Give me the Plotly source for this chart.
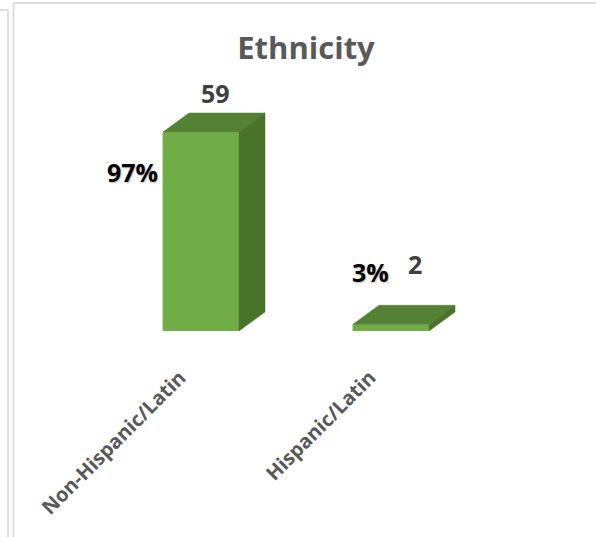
import plotly.graph_objects as go

categories = ["Non-Hispanic/Latin", "Hispanic/Latin"]
counts = [59, 2]
percent_labels = ["97%", "3%"]

FRONT = "#70AD47"
TOP = "#548235"
SIDE = "#4A7229"
GREY = "#595959"

BAR_W = 0.4
DX = 26 / 190
DY = 19 / 3.373

fig = go.Figure()
xs = list(range(len(categories)))

fig.add_trace(go.Bar(x=xs, y=counts, width=BAR_W, marker=dict(color=FRONT, line=dict(color="#7FB65A", width=1)),
                     hoverinfo="skip", showlegend=False))

for x, v in zip(xs, counts):
    l, r = x - BAR_W / 2, x + BAR_W / 2
    fig.add_trace(go.Scatter(x=[l, r, r + DX, l + DX, l], y=[v, v, v + DY, v + DY, v],
                             mode="lines", fill="toself", fillcolor=TOP,
                             line=dict(color=TOP, width=0.5), hoverinfo="skip", showlegend=False))
    fig.add_trace(go.Scatter(x=[r, r + DX, r + DX, r, r], y=[0, DY, v + DY, v, 0],
                             mode="lines", fill="toself", fillcolor=SIDE,
                             line=dict(color=SIDE, width=0.5), hoverinfo="skip", showlegend=False))

annotations = []
for x, v, p, dy_pct, dx_pct, dy_n, dx_n in zip(xs, counts, percent_labels,
                                              [-40, 52], [-69, -21], [39, 60], [14, 24]):
    annotations.append(dict(x=x, y=v, text=f"<b>{v}</b>", showarrow=False, xshift=dx_n, yshift=dy_n,
                            font=dict(family="Open Sans", size=25, color="#404040")))
    annotations.append(dict(x=x, y=v, text=f"<b>{p}</b>", showarrow=False, xshift=dx_pct, yshift=dy_pct,
                            font=dict(family="Open Sans", size=25, color="#000000",
                                      shadow="1px 1px 2px rgba(0,0,0,0.25)")))

line = dict(color="#DEDEDE", width=2)

def px(x): return (x - 106) / 380
def py(y): return (331 - y) / 266

shapes = [
    dict(type="line", xref="paper", yref="paper", x0=px(13.5), x1=px(13.5), y0=py(537), y1=py(3), line=line),
    dict(type="line", xref="paper", yref="paper", x0=px(13.5), x1=px(596), y0=py(3), y1=py(3), line=line),
    dict(type="line", xref="paper", yref="paper", x0=px(8), x1=px(8), y0=py(537), y1=py(10), line=line),
    dict(type="line", xref="paper", yref="paper", x0=px(0), x1=px(8), y0=py(10), y1=py(10), line=line),
]

fig.update_layout(
    width=596, height=537, autosize=False,
    margin=dict(l=106, r=110, t=65, b=206),
    paper_bgcolor="white", plot_bgcolor="white",
    title=dict(text="<b>Ethnicity</b>", x=306 / 596, xanchor="center", y=1 - 48 / 537, yanchor="middle",
               font=dict(family="Open Sans", size=31, color=GREY)),
    xaxis=dict(range=[-0.5, 1.5], tickvals=xs, ticktext=[f"<b>{c}</b>" for c in categories], tickangle=-45,
               showgrid=False, zeroline=False, showline=False, ticks="",
               tickfont=dict(family="Open Sans", size=20, color=GREY), ticklabelstandoff=30,
               ticklabelshift=-21),
    yaxis=dict(range=[0, 266 / 3.373], visible=False),
    annotations=annotations, shapes=shapes, showlegend=False,
)
fig.write_html("out.html", config={"displayModeBar": False},
               post_script="document.body.style.margin='0';document.documentElement.style.overflow='hidden';")
